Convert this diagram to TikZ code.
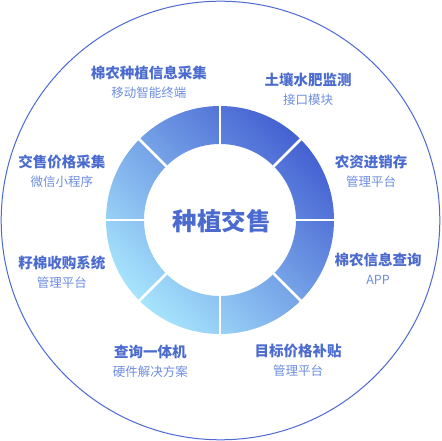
\documentclass[tikz,border=0pt]{standalone}
\usepackage{fontspec}
\newfontfamily\cjk{Noto Sans CJK SC}
\definecolor{deep}{HTML}{4561D2}
\definecolor{pale}{HTML}{A6E4FC}
\definecolor{ttlblue}{HTML}{4B6BCF}
\definecolor{subblue}{HTML}{6E8EDF}
\tikzset{
  outline/.style={draw=deep!95!white, line width=1pt},
  ringshade/.style={top color=deep, bottom color=pale, shading angle=-45},
  ttl/.style={font=\cjk\bfseries\fontsize{14.5}{16}\selectfont, text=ttlblue, inner sep=0pt},
  sub/.style={font=\cjk\fontsize{12.5}{14}\selectfont, text=subblue, inner sep=0pt},
  hubtext/.style={font=\cjk\bfseries\fontsize{24.5}{28}\selectfont, text=ttlblue, inner sep=0pt}
}
\begin{document}
\begin{tikzpicture}[x=1pt, y=1pt, line join=round, line cap=round]
	\def\R{114} \def\r{76} % ring radii
	\useasboundingbox (-220,-221) rectangle (221,220);
	\fill[white] (-220,-221) rectangle (221,220);
	\draw[outline] (0.5,-0.5) circle(219.3);
	\shade[ringshade, even odd rule] (0,0) circle(\R) (0,0) circle(\r);
	\foreach \a in {0,45,...,315} \draw[white, line width=2.5pt, line cap=butt] (\a:\r-1) -- (\a:\R+1);
	\node[hubtext] (hub) at (1.5,-1.5) {种植交售};
	% labels round the ring
	\foreach \n/\x/\y/\t/\s in {
		cj/-71/147/棉农种植信息采集/移动智能终端,
		tr/88/140/土壤水肥监测/接口模块,
		nz/151/58/农资进销存/管理平台,
		cx/158/-40/棉农信息查询/APP,
		mb/78/-131/目标价格补贴/管理平台,
		yt/-69.5/-132/查询一体机/硬件解决方案,
		zm/-158/-43/籽棉收购系统/管理平台,
		jg/-158/58/交售价格采集/微信小程序}{
		\node[ttl] (\n) at (\x,\y) {\t};
		\node[sub] (\n-s) at ([yshift=-20pt]\n.center) {\s};
	}
\end{tikzpicture}
\end{document}
